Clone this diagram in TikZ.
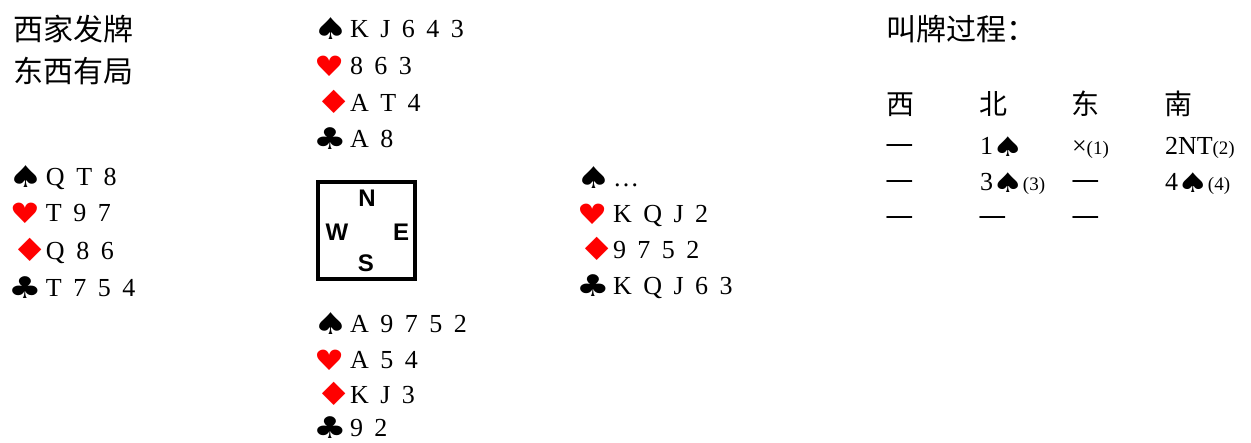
\documentclass[tikz,border=0pt]{standalone}
\usepackage{fontspec}
\setmainfont{Liberation Serif}
\newfontfamily\cjk{Noto Sans CJK SC}
\newfontfamily\symf{DejaVu Sans}
\newfontfamily\cmpf{Liberation Sans}
\definecolor{suitred}{RGB}{255,0,0}
\newcommand\sg[3]{\raisebox{-2pt}{\scalebox{#2}[1]{\symf\fontsize{#1}{#1}\selectfont #3}}}
\newcommand\Sp{\makebox[34pt][l]{\hspace{-3pt}\sg{30}{1.3}{♠}}}
\newcommand\He{\makebox[34pt][l]{\hspace{-2pt}\color{suitred}\sg{28}{1.2}{♥}}}
\newcommand\Di{\makebox[34pt][l]{\hspace{-1pt}\color{suitred}\sg{32}{1.3}{♦}}}
\newcommand\Cl{\makebox[34pt][l]{\hspace{-3pt}\sg{30}{1.25}{♣}}}
\newcommand\bsp{\hspace{-1pt}\sg{27}{1.3}{♠}\hspace{-0.5pt}}
\newcommand\nt[1]{{\fontsize{19}{19}\selectfont(#1)}}
\begin{document}
\begin{tikzpicture}[x=1pt,y=1pt,
  every node/.style={inner sep=0pt,outer sep=0pt},
  hand/.style={anchor=base west,font={\fontsize{26}{26}\selectfont\spaceskip=11.5pt\relax}},
  cn/.style={anchor=base west,font={\cjk\fontsize{30}{30}\selectfont}},
  hdr/.style={anchor=base west,font={\cjk\fontsize{28}{28}\selectfont}},
  bid/.style={anchor=base west,font={\fontsize{26}{26}\selectfont}},
  pass/.style={anchor=base west,font={\cjk\fontsize{32}{32}\selectfont}},
  cmp/.style={font={\cmpf\bfseries\fontsize{24}{24}\selectfont}}]
\useasboundingbox (0,0) rectangle (1251,-443);
% dealer / vulnerability
\node[cn] (deal) at (13,-41) {西家发牌};
\node[cn] (vul) at (13,-83) {东西有局};
% North
\node[hand] (n1) at (316,-38) {\Sp K J 6 4 3};
\node[hand] (n2) at (316,-75) {\He 8 6 3};
\node[hand] (n3) at (316,-112) {\Di A T 4};
\node[hand] (n4) at (316,-148) {\Cl A 8};
% West
\node[hand] (w1) at (12,-186) {\Sp Q T 8};
\node[hand] (w2) at (12,-222) {\He T 9 7};
\node[hand] (w3) at (12,-260) {\Di Q 8 6};
\node[hand] (w4) at (12,-297) {\Cl T 7 5 4};
% East
\node[hand] (e1) at (579,-187) {\Sp …};
\node[hand] (e2) at (579,-223) {\He K Q J 2};
\node[hand] (e3) at (579,-259) {\Di 9 7 5 2};
\node[hand] (e4) at (579,-295) {\Cl K Q J 6 3};
% South
\node[hand] (s1) at (316,-333) {\Sp A 9 7 5 2};
\node[hand] (s2) at (316,-369) {\He A 5 4};
\node[hand] (s3) at (316,-404) {\Di K J 3};
\node[hand] (s4) at (316,-437) {\Cl 9 2};
% compass
\node[draw,line width=3.5pt,minimum size=97pt] (box) at (366.5,-230.5) {};
\node[cmp] (cN) at (367,-198) {N};
\node[cmp] (cW) at (337,-232) {W};
\node[cmp] (cE) at (401,-232) {E};
\node[cmp] (cS) at (366,-263) {S};
% bidding
\node[cn] (btitle) at (886,-41) {叫牌过程：};
\node[hdr] (hW) at (886,-115) {西};
\node[hdr] (hN) at (979,-115) {北};
\node[hdr] (hE) at (1071,-115) {东};
\node[hdr] (hS) at (1164,-115) {南};
\node[pass] (r1W) at (885,-155) {—};
\node[bid] (r1N) at (980,-155) {1\bsp};
\node[bid] (r1E) at (1072,-155) {×\nt{1}};
\node[bid] (r1S) at (1165,-155) {2NT\nt{2}};
\node[pass] (r2W) at (885,-191) {—};
\node[bid] (r2N) at (980,-191) {3\bsp\nt{3}};
\node[pass] (r2E) at (1071,-191) {—};
\node[bid] (r2S) at (1165,-191) {4\bsp\nt{4}};
\node[pass] (r3W) at (885,-227) {—};
\node[pass] (r3N) at (978,-227) {—};
\node[pass] (r3E) at (1071,-227) {—};
\end{tikzpicture}
\end{document}
